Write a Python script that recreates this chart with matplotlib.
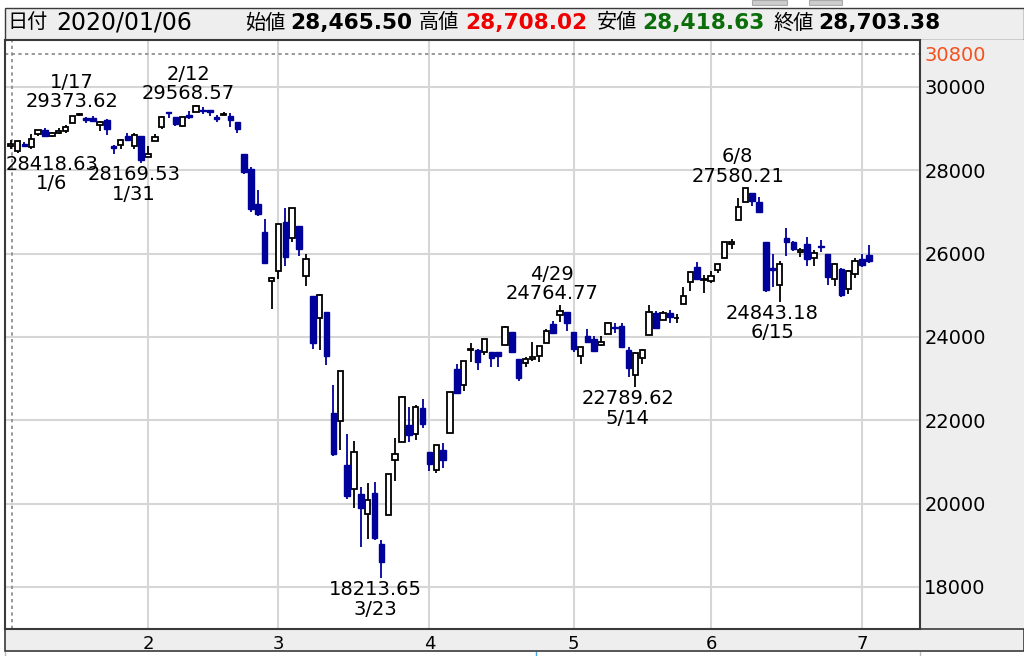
import matplotlib
matplotlib.use('Agg')
import matplotlib.pyplot as plt
from matplotlib.patches import Rectangle
import numpy as np

# daily candles, 2020 (month/day)
dates = ['01/03', '01/06', '01/07', '01/08', '01/09', '01/10', '01/13', '01/14', '01/15', '01/16',
         '01/17', '01/21', '01/22', '01/23', '01/24', '01/27', '01/28', '01/29', '01/30', '01/31',
         '02/03', '02/04', '02/05', '02/06', '02/07', '02/10', '02/11', '02/12', '02/13', '02/14',
         '02/18', '02/19', '02/20', '02/21', '02/24', '02/25', '02/26', '02/27', '02/28',
         '03/02', '03/03', '03/04', '03/05', '03/06', '03/09', '03/10', '03/11', '03/12', '03/13',
         '03/16', '03/17', '03/18', '03/19', '03/20', '03/23', '03/24', '03/25', '03/26', '03/27',
         '03/30', '03/31',
         '04/01', '04/02', '04/03', '04/06', '04/07', '04/08', '04/09', '04/13', '04/14', '04/15',
         '04/16', '04/17', '04/20', '04/21', '04/22', '04/23', '04/24', '04/27', '04/28', '04/29',
         '04/30',
         '05/01', '05/04', '05/05', '05/06', '05/07', '05/08', '05/11', '05/12', '05/13', '05/14',
         '05/15', '05/18', '05/19', '05/20', '05/21', '05/22', '05/26', '05/27', '05/28', '05/29',
         '06/01', '06/02', '06/03', '06/04', '06/05', '06/08', '06/09', '06/10', '06/11', '06/12',
         '06/15', '06/16', '06/17', '06/18', '06/19', '06/22', '06/23', '06/24', '06/25', '06/26',
         '06/29', '06/30',
         '07/01', '07/02']

opens = [28589, 28465.50, 28639, 28556, 28876, 28978, 28823, 28885, 28936, 29131,
         29317, 29262, 29263, 29094, 29213, 28573, 28598, 28826, 28584, 28813,
         28319, 28696, 29049, 29388, 29286, 29057, 29339, 29406, 29437, 29440,
         29279, 29326, 29315, 29168, 28402, 28029, 27201, 26526, 25348,
         25590, 26762, 26383, 26671, 25457, 24992, 24453, 24604, 22180, 21973,
         20917, 20345, 20222, 19753, 20253, 19028, 19722, 21050, 21468, 21899,
         21678, 22306,
         21228, 20819, 21285, 21693, 23241, 22856, 23676, 23685, 23635, 23642,
         23645, 23817, 24126, 23468, 23377, 23477, 23552, 23854, 24320, 24520,
         24599,
         24120, 23539, 24032, 23959, 23815, 24083, 24236, 24273, 23685, 23080,
         23490, 24052, 24579, 24396, 24577, 24450, 24800, 25310, 25688, 25376,
         25342, 25600, 25900, 26235, 26800, 27232, 27447, 27251, 26282, 25659,
         25250, 26369, 26269, 26050, 26220, 25900, 26180, 26000, 25388, 25642,
         25152, 25512,
         25879, 25962]

highs = [28716, 28708.02, 28685, 28866, 28958, 29009, 28908, 29005, 29085, 29300,
         29373.62, 29283, 29306, 29182, 29237, 28601, 28754, 28891, 28890, 28814,
         28591, 28871, 29294, 29408, 29286, 29277, 29415, 29568.57, 29525, 29459,
         29333, 29406, 29370, 29169, 28402, 28070, 27529, 26831, 25436,
         26706, 27084, 27102, 26671, 25994, 24992, 25020, 24604, 22837, 23190,
         21682, 21513, 20400, 20500, 20531, 19121, 20722, 21565, 22595, 22328,
         22378, 22503,
         21228, 21413, 21447, 22680, 23359, 23434, 23847, 23700, 23950, 23642,
         23645, 24264, 24126, 23468, 23530, 23887, 23778, 24202, 24385, 24764.77,
         24599,
         24120, 23757, 24194, 24016, 24028, 24363, 24336, 24342, 23750, 23650,
         23711, 24765, 24629, 24615, 24637, 24540, 25200, 25548, 25811, 25481,
         25577, 25742, 26269, 26357, 27338, 27580.21, 27447, 27354, 26282, 26000,
         25834, 26610, 26299, 26142, 26400, 26081, 26320, 26000, 25767, 25663,
         25600, 25905,
         26000, 26204]

lows = [28500, 28418.63, 28565, 28522, 28820, 28789, 28793, 28866, 28904, 29131,
        29300, 29143, 29165, 28935, 28844, 28401, 28520, 28723, 28506, 28169.53,
        28319, 28696, 28981, 29246, 29056, 29037, 29240, 29406, 29344, 29312,
        29153, 29326, 29031, 28890, 27912, 27006, 26913, 25752, 24681,
        25391, 25706, 26286, 25943, 25226, 23706, 23690, 23328, 21154, 21285,
        20116, 19904, 18950, 19150, 19122, 18213.65, 19722, 20539, 21469, 21469,
        21522, 21821,
        20784, 20735, 20863, 21693, 22631, 22709, 23406, 23200, 23574, 23280,
        23286, 23817, 23625, 22941, 23285, 23420, 23401, 23854, 24069, 24370,
        24155,
        23645, 23361, 23861, 23657, 23780, 24083, 24093, 23763, 23030, 22789.62,
        23343, 24052, 24184, 24396, 24341, 24338, 24790, 25100, 25384, 25051,
        25305, 25538, 25900, 26112, 26800, 27232, 27143, 26978, 25082, 25188,
        24843.18, 25950, 26063, 25919, 25709, 25700, 26051, 25254, 25223, 24953,
        25021, 25424,
        25687, 25783]

closes = [28634, 28703.38, 28583, 28745, 28956, 28823, 28907, 28939, 29030, 29297,
          29348, 29196, 29186, 29160, 28989, 28535, 28722, 28734, 28859, 28256,
          28399, 28807, 29290, 29379, 29102, 29276, 29276, 29551, 29423, 29398,
          29232, 29348, 29219, 28992, 27960, 27081, 26957, 25766, 25409,
          26703, 25917, 27090, 26121, 25864, 23851, 25018, 23553, 21200, 23185,
          20188, 21237, 19898, 20087, 19173, 18591, 20704, 21200, 22552, 21636,
          22327, 21917,
          20943, 21413, 21052, 22679, 22653, 23433, 23719, 23390, 23949, 23504,
          23537, 24242, 23650, 23018, 23475, 23515, 23775, 24133, 24101, 24633,
          24345,
          23723, 23749, 23883, 23664, 23875, 24331, 24221, 23764, 23247, 23625,
          23685, 24597, 24206, 24575, 24474, 24465, 24995, 25548, 25400, 25383,
          25475, 25742, 26269, 26281, 27110, 27572, 27272, 26989, 25128, 25605,
          25763, 26289, 26119, 26080, 25871, 26024, 26150, 25445, 25745, 25015,
          25595, 25812,
          25734, 25827]

month_labels = ['2', '3', '4', '5', '6', '7']
price_ticks = [18000, 20000, 22000, 24000, 26000, 28000, 30000]
cursor_price = 30800
cursor_date = '01/06'

# (date, which extreme, x shift in px)
notes = [('01/06', 'low', 34), ('01/17', 'high', -7.5), ('01/31', 'low', -7.5),
         ('02/12', 'high', -7.5), ('03/23', 'low', -6), ('04/29', 'high', -7.5),
         ('05/14', 'low', -7.5), ('06/08', 'high', -7.5), ('06/15', 'low', -7.5)]

W, H = 1024, 656
BLUE = '#00009a'
GRID = '#d6d6d6'
PANEL = '#eeeeee'
EDGE = '#3a3a3a'
JP = ['Noto Sans CJK JP', 'DejaVu Sans']


def fx(px):
    return px / W


def fy(py):
    return 1 - py / H


fig = plt.figure(figsize=(W / 100, H / 100), dpi=100)

# background bands (below the axes)
fig.patches.append(Rectangle((fx(5), fy(40)), fx(1019), 32 / H, transform=fig.transFigure,
                             facecolor=PANEL, edgecolor=EDGE, lw=1.0, zorder=-1))
fig.patches.append(Rectangle((fx(920), fy(629)), fx(104), 589 / H, transform=fig.transFigure,
                             facecolor=PANEL, edgecolor='none', zorder=-1))
fig.patches.append(Rectangle((fx(5), fy(651)), fx(1019), 22 / H, transform=fig.transFigure,
                             facecolor=PANEL, edgecolor=EDGE, lw=1.2, zorder=-1))
for x0, x1 in [(752, 787), (809, 842)]:
    fig.patches.append(Rectangle((fx(x0), fy(5)), fx(x1 - x0), 5 / H, transform=fig.transFigure,
                                 facecolor='#cccccc', edgecolor='#aaaaaa', lw=0.8, zorder=-1))
for xp, col in [(5, '#bbbbbb'), (920, '#bbbbbb'), (536, '#4aa3df')]:
    fig.add_artist(plt.Line2D([fx(xp), fx(xp)], [0, fy(652)], transform=fig.transFigure,
                              color=col, lw=1.0, zorder=-1))

ax = fig.add_axes([fx(5), fy(629), fx(915), 589 / H])
ax.set_facecolor('white')

x = np.arange(len(dates))
o = np.array(opens, dtype=float)
h = np.array(highs, dtype=float)
l = np.array(lows, dtype=float)
c = np.array(closes, dtype=float)
up = c >= o
dn = ~up

# grid
for p in price_ticks:
    ax.axhline(p, color=GRID, lw=1.5, zorder=0)
month_idx = [i for i in range(1, len(dates)) if dates[i][:2] != dates[i - 1][:2]]
for i in month_idx:
    ax.axvline(i, color=GRID, lw=1.5, zorder=0)

# crosshair
ax.axhline(cursor_price, color='#888888', lw=1.2, ls=(0, (2, 2)), zorder=1)
ax.axvline(dates.index(cursor_date) - 0.8, color='#888888', lw=1.2, ls=(0, (2, 2)), zorder=1)

# candles
ax.vlines(x[up], l[up], h[up], color='black', lw=1.3, zorder=2)
ax.bar(x[up], c[up] - o[up], bottom=o[up], width=0.78, facecolor='white',
       edgecolor='black', lw=1.3, zorder=3)
ax.vlines(x[dn], l[dn], h[dn], color=BLUE, lw=1.3, zorder=2)
ax.bar(x[dn], o[dn] - c[dn], bottom=c[dn], width=0.8, facecolor=BLUE,
       edgecolor=BLUE, lw=1.0, zorder=3)

# high / low notes
for d, kind, dx in notes:
    i = dates.index(d)
    m, dd = d.split('/')
    day = '%d/%d' % (int(m), int(dd))
    if kind == 'high':
        val = h[i]
        ax.annotate('%.2f' % val, (i, val), xytext=(dx * 0.72, 8.3), textcoords='offset points',
                    ha='center', va='center', fontsize=14, zorder=5)
        ax.annotate(day, (i, val), xytext=(dx * 0.72, 22.3), textcoords='offset points',
                    ha='center', va='center', fontsize=14, zorder=5)
    else:
        val = l[i]
        ax.annotate('%.2f' % val, (i, val), xytext=(dx * 0.72, -8.3), textcoords='offset points',
                    ha='center', va='center', fontsize=14, zorder=5)
        ax.annotate(day, (i, val), xytext=(dx * 0.72, -22.3), textcoords='offset points',
                    ha='center', va='center', fontsize=14, zorder=5)

ax.set_xlim(-0.83, 132.45)
ax.set_ylim(16992, 31128)

ax.set_xticks(month_idx)
ax.set_xticklabels(month_labels)
ax.tick_params(axis='x', length=0, pad=4, labelsize=13)
ax.yaxis.tick_right()
ax.set_yticks(price_ticks + [cursor_price])
ax.set_yticklabels([str(p) for p in price_ticks] + [str(cursor_price)])
ax.tick_params(axis='y', length=0, pad=3, labelsize=14)
ax.get_yticklabels()[-1].set_color('#f4511e')
for s in ax.spines.values():
    s.set_color(EDGE)
    s.set_linewidth(1.5)

# header line
ci = dates.index(cursor_date)
hy = fy(23)
fig.text(fx(7), hy, '日付', family=JP, fontsize=14.5, va='center')
fig.text(fx(56), hy, '2020/' + cursor_date, fontsize=17, va='center')
items = [('始値', o[ci], 'black', 245, 290), ('高値', h[ci], '#ee0000', 419, 465),
         ('安値', l[ci], '#0b6e0b', 597, 642), ('終値', c[ci], 'black', 773, 818)]
for lab, v, col, xl, xv in items:
    fig.text(fx(xl), hy, lab, family=JP, fontsize=14.5, va='center')
    fig.text(fx(xv), hy, '{:,.2f}'.format(v), fontsize=15.6, fontweight='bold',
             color=col, va='center')

fig.savefig('out.png', dpi=100, facecolor='white')
